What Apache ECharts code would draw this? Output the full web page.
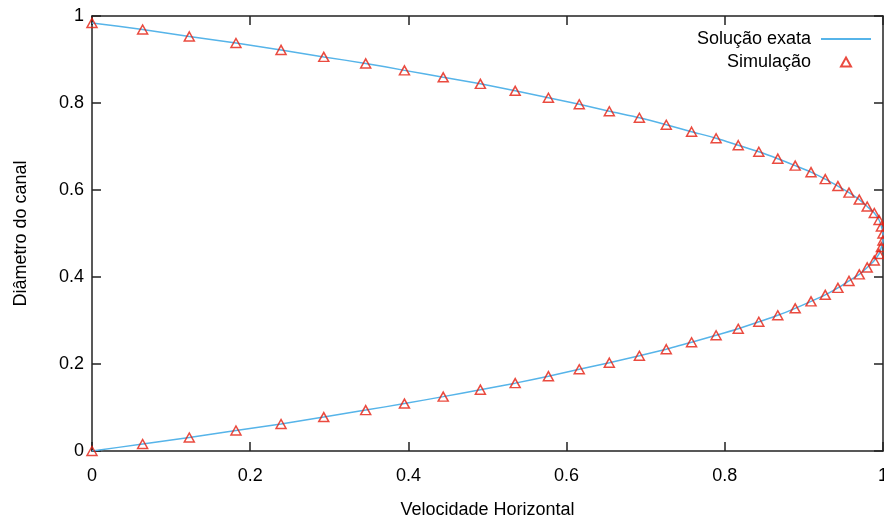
<!DOCTYPE html>
<html>
<head>
<meta charset="utf-8">
<script src="https://cdn.jsdelivr.net/npm/echarts@6/dist/echarts.min.js"></script>
<style>
html,body{margin:0;padding:0;background:#fff;}
#chart{width:884px;height:519px;}
</style>
</head>
<body>
<div id="chart"></div>
<script>
// Diameter positions (y) of the samples
const yVals = [0, 0.016, 0.031, 0.047, 0.062, 0.078, 0.094, 0.109, 0.125, 0.141, 0.156, 0.172, 0.188, 0.203, 0.219, 0.234,
  0.25, 0.266, 0.281, 0.297, 0.312, 0.328, 0.344, 0.359, 0.375, 0.391, 0.406, 0.422, 0.438, 0.453, 0.469, 0.484,
  0.5, 0.516, 0.531, 0.547, 0.562, 0.578, 0.594, 0.609, 0.625, 0.641, 0.656, 0.672, 0.688, 0.703, 0.719, 0.734,
  0.75, 0.766, 0.781, 0.797, 0.812, 0.828, 0.844, 0.859, 0.875, 0.891, 0.906, 0.922, 0.938, 0.953, 0.969, 0.984];
// Simulated horizontal velocity (x)
const simX = [0, 0.064, 0.123, 0.182, 0.239, 0.293, 0.346, 0.395, 0.444, 0.491, 0.535, 0.577, 0.616, 0.654, 0.692, 0.726,
  0.758, 0.789, 0.817, 0.843, 0.867, 0.889, 0.909, 0.927, 0.943, 0.957, 0.970, 0.980, 0.989, 0.995, 0.998, 1.0,
  1.0, 0.998, 0.995, 0.989, 0.980, 0.970, 0.957, 0.943, 0.927, 0.909, 0.889, 0.867, 0.843, 0.817, 0.789, 0.758,
  0.726, 0.692, 0.654, 0.616, 0.577, 0.535, 0.491, 0.444, 0.395, 0.346, 0.293, 0.239, 0.182, 0.123, 0.064, 0];
// Exact solution (same sample positions)
const exactX = [0, 0.064, 0.123, 0.182, 0.239, 0.293, 0.346, 0.395, 0.444, 0.491, 0.535, 0.577, 0.616, 0.654, 0.692, 0.726,
  0.758, 0.789, 0.817, 0.843, 0.867, 0.889, 0.909, 0.927, 0.943, 0.957, 0.970, 0.980, 0.989, 0.995, 0.998, 1.0,
  1.0, 0.998, 0.995, 0.989, 0.980, 0.970, 0.957, 0.943, 0.927, 0.909, 0.889, 0.867, 0.843, 0.817, 0.789, 0.758,
  0.726, 0.692, 0.654, 0.616, 0.577, 0.535, 0.491, 0.444, 0.395, 0.346, 0.293, 0.239, 0.182, 0.123, 0.064, 0];
const xTicks = [0, 0.2, 0.4, 0.6, 0.8, 1];
const yTicks = [0, 0.2, 0.4, 0.6, 0.8, 1];
const seriesNames = ['Solução exata', 'Simulação'];
const xTitle = 'Velocidade Horizontal';
const yTitle = 'Diâmetro do canal';

const FONT = '"Liberation Sans", Arial, sans-serif';
const AXC = '#222';
const fmt = v => { const s = xTicks.concat(yTicks).find(t => Math.abs(t - v) < 1e-9); return s === undefined ? '' : String(s); };

const baseAxis = {
  min: 0, max: 1, interval: 0.2,
  axisLine: { show: true, onZero: false, lineStyle: { color: AXC, width: 1.5 } },
  axisTick: { show: true, inside: true, length: 9, lineStyle: { color: AXC, width: 1.5 } },
  splitLine: { show: false }
};
const legendText = { fontFamily: FONT, fontSize: 18, color: '#000' };

const chart = echarts.init(document.getElementById('chart'), null, { renderer: 'canvas' });
chart.setOption({
  animation: false,
  backgroundColor: '#fff',
  grid: { left: 92, right: 1, top: 16, bottom: 68, containLabel: false, outerBoundsMode: 'none' },
  legend: [
    {
      orient: 'vertical', right: 12, top: 30, align: 'right', padding: 0,
      itemWidth: 50, itemHeight: 10, selectedMode: false,
      textStyle: Object.assign({ padding: [0, 5, 0, 0] }, legendText),
      data: [{ name: seriesNames[0], itemStyle: { color: 'rgba(0,0,0,0)', borderWidth: 0, opacity: 0 } }]
    },
    {
      orient: 'vertical', right: 32, top: 53, align: 'right', padding: 0,
      itemWidth: 10, itemHeight: 9, selectedMode: false,
      textStyle: Object.assign({ padding: [0, 25, 0, 0] }, legendText),
      data: [{ name: seriesNames[1], icon: 'triangle' }]
    }
  ],
  xAxis: [
    Object.assign({}, baseAxis, {
      type: 'value', position: 'bottom',
      name: xTitle, nameLocation: 'middle', nameGap: 50,
      nameTextStyle: { fontFamily: FONT, fontSize: 18, color: '#000' },
      axisLabel: { show: true, margin: 16, fontFamily: FONT, fontSize: 18, color: '#000', formatter: fmt }
    }),
    Object.assign({}, baseAxis, { type: 'value', position: 'top', axisLabel: { show: false } })
  ],
  yAxis: [
    Object.assign({}, baseAxis, {
      type: 'value', position: 'left',
      name: yTitle, nameLocation: 'middle', nameGap: 62, nameRotate: 90,
      nameTextStyle: { fontFamily: FONT, fontSize: 18, color: '#000' },
      axisLabel: { show: true, margin: 8, fontFamily: FONT, fontSize: 18, color: '#000', formatter: fmt }
    }),
    Object.assign({}, baseAxis, { type: 'value', position: 'right', axisLabel: { show: false } })
  ],
  series: [
    {
      name: seriesNames[0], type: 'line', xAxisIndex: 0, yAxisIndex: 0,
      data: exactX.map((x, i) => [x, yVals[i]]),
      showSymbol: false, symbol: 'none', smooth: 0.2,
      lineStyle: { color: '#56b4e9', width: 1.5 },
      itemStyle: { color: '#56b4e9' },
      z: 2
    },
    {
      name: seriesNames[1], type: 'scatter', xAxisIndex: 0, yAxisIndex: 0,
      data: simX.map((x, i) => [x, yVals[i]]),
      symbol: 'triangle', symbolSize: [10, 9],
      itemStyle: { color: 'rgba(255,255,255,0)', borderColor: '#e51e10', borderWidth: 1.5 },
      z: 3
    }
  ]
});
</script>
</body>
</html>
